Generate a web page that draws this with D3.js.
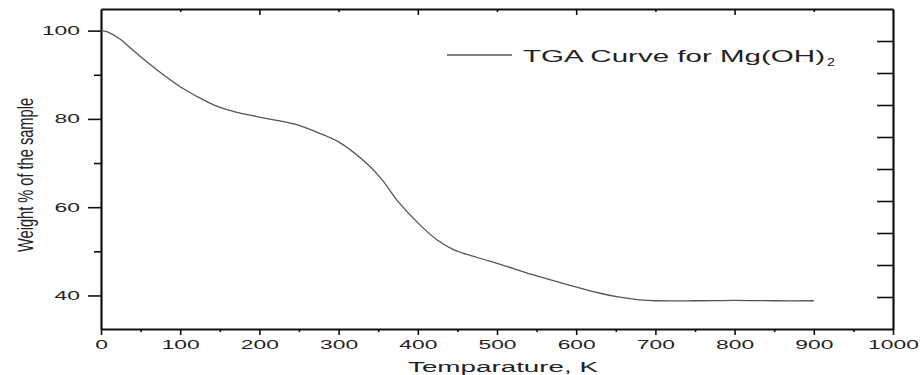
<!DOCTYPE html>
<html>
<head>
<meta charset="utf-8">
<script src="https://cdn.jsdelivr.net/npm/d3@7"></script>
<style>
  body { margin: 0; background: #fff; }
  text { font-family: Arial, "Liberation Sans", sans-serif; fill: #222; }
</style>
</head>
<body>
<div id="chart"></div>
<script>
// TGA curve
const temps   = [0, 8, 24, 40, 70, 100, 120, 142, 167, 200, 245, 275, 300, 335, 355, 375, 405, 425, 445, 475, 505, 545, 590, 630, 655, 680, 700, 750, 800, 850, 900];
const weights = [100, 99.7, 98.1, 95.6, 91.2, 87.3, 85.2, 83.2, 81.7, 80.4, 78.8, 76.8, 74.8, 70, 66.2, 61.3, 55.6, 52.5, 50.4, 48.6, 47, 44.7, 42.4, 40.5, 39.6, 39.0, 38.8, 38.8, 38.9, 38.8, 38.8];
const xTicks = [0, 100, 200, 300, 400, 500, 600, 700, 800, 900, 1000];
const yTicks = [40, 60, 80, 100];
const seriesName = "TGA Curve for Mg(OH)";

const width = 921, height = 375;
const margin = {top: 9, right: 28, bottom: 46, left: 101};
const digitW = 12.7; // the picture is stretched sideways, so text is too

const svg = d3.select("#chart").append("svg")
  .attr("width", width)
  .attr("height", height);

const x = d3.scaleLinear().domain([0, 1000]).range([margin.left, width - margin.right]);
const y = d3.scaleLinear().domain([32.4, 104.9]).range([height - margin.bottom, margin.top]);
const yr = d3.scaleLinear().domain([0, 10]).range([height - margin.bottom, margin.top]);

const styleAxis = (g, w) => {
  g.selectAll("path, line").attr("stroke", "#111");
  g.select(".domain").attr("stroke-width", w);
  g.selectAll(".tick line").attr("stroke-width", 1.6);
};

// bottom axis
svg.append("g")
  .attr("transform", `translate(0,${height - margin.bottom})`)
  .call(d3.axisBottom(x).tickValues(d3.range(50, 1000, 100)).tickSize(3).tickSizeOuter(0).tickFormat(""))
  .call(g => styleAxis(g, 2.2));
svg.append("g")
  .attr("transform", `translate(0,${height - margin.bottom})`)
  .call(d3.axisBottom(x).tickValues(xTicks).tickSize(6).tickSizeOuter(0).tickPadding(5).tickFormat(d3.format("d")))
  .call(g => { styleAxis(g, 2); g.select(".domain").remove(); })
  .call(g => g.selectAll("text")
    .attr("font-size", 12)
    .attr("textLength", d => String(d).length * digitW)
    .attr("lengthAdjust", "spacingAndGlyphs"));

// top axis (inward ticks, no labels)
svg.append("g")
  .attr("transform", `translate(0,${margin.top})`)
  .call(d3.axisTop(x).tickValues([100, 300, 500, 700, 900]).tickSize(-3).tickSizeOuter(0).tickFormat(""))
  .call(g => styleAxis(g, 1.8));
svg.append("g")
  .attr("transform", `translate(0,${margin.top})`)
  .call(d3.axisTop(x).tickValues([200, 400, 600, 800]).tickSize(-6).tickSizeOuter(0).tickFormat(""))
  .call(g => { styleAxis(g, 1.8); g.select(".domain").remove(); });

// left axis
svg.append("g")
  .attr("transform", `translate(${margin.left},0)`)
  .call(d3.axisLeft(y).tickValues([50, 70, 90]).tickSize(7).tickSizeOuter(0).tickFormat(""))
  .call(g => styleAxis(g, 2.2));
svg.append("g")
  .attr("transform", `translate(${margin.left},0)`)
  .call(d3.axisLeft(y).tickValues(yTicks).tickSize(13).tickSizeOuter(0).tickPadding(8))
  .call(g => { styleAxis(g, 2); g.select(".domain").remove(); })
  .call(g => g.selectAll("text")
    .attr("font-size", 12)
    .attr("textLength", d => String(d).length * digitW)
    .attr("lengthAdjust", "spacingAndGlyphs"));

// right axis (inward ticks, no labels)
svg.append("g")
  .attr("transform", `translate(${width - margin.right},0)`)
  .call(d3.axisRight(yr).tickValues(d3.range(1, 10)).tickSize(-16).tickSizeOuter(0).tickFormat(""))
  .call(g => styleAxis(g, 2.2));

// curve
const line = d3.line()
  .x((d, i) => x(temps[i]))
  .y(d => y(d))
  .curve(d3.curveCatmullRom.alpha(0.5));

svg.append("path")
  .datum(weights)
  .attr("fill", "none")
  .attr("stroke", "#555")
  .attr("stroke-width", 1.3)
  .attr("d", line);

// legend
svg.append("line")
  .attr("x1", 447).attr("x2", 512)
  .attr("y1", 55).attr("y2", 55)
  .attr("stroke", "#555")
  .attr("stroke-width", 1.3);
svg.append("text")
  .attr("x", 523).attr("y", 62)
  .attr("font-size", 16.5)
  .attr("textLength", 302)
  .attr("lengthAdjust", "spacingAndGlyphs")
  .text(seriesName);
svg.append("text")
  .attr("x", 827).attr("y", 66)
  .attr("font-size", 10)
  .attr("textLength", 8)
  .attr("lengthAdjust", "spacingAndGlyphs")
  .text("2");

// axis titles
svg.append("text")
  .attr("x", 503).attr("y", 372)
  .attr("text-anchor", "middle")
  .attr("font-size", 15.5)
  .attr("textLength", 190)
  .attr("lengthAdjust", "spacingAndGlyphs")
  .text("Temparature, K");

svg.append("text")
  .attr("transform", "translate(33,175) scale(1.75,1) rotate(-90)")
  .attr("text-anchor", "middle")
  .attr("font-size", 12.5)
  .attr("textLength", 154)
  .attr("lengthAdjust", "spacingAndGlyphs")
  .text("Weight % of the sample");
</script>
</body>
</html>
